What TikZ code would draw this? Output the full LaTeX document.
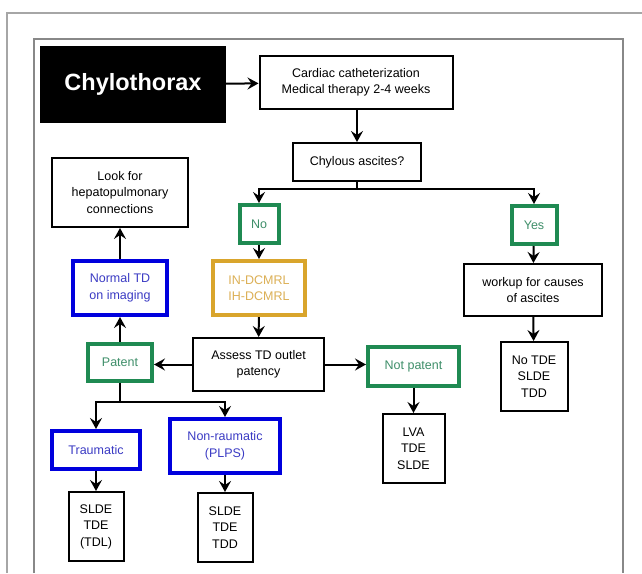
\documentclass[tikz,border=0pt]{standalone}
\usepackage{fontspec}
\setmainfont{Liberation Sans}
\usetikzlibrary{arrows.meta}

\definecolor{outerframe}{HTML}{A6A6A6}
\definecolor{innerframe}{HTML}{888888}
\definecolor{okgreen}{HTML}{1F8A52}
\definecolor{okgreentext}{HTML}{3F8F6A}
\definecolor{tdblue}{HTML}{0000DD}
\definecolor{tdbluetext}{HTML}{3B3BC4}
\definecolor{mrgold}{HTML}{D9A52C}
\definecolor{mrgoldtext}{HTML}{DCB056}

\begin{document}
\begin{tikzpicture}[
    x=1pt, y=-1pt,
    box/.style={
        rectangle,
        draw=black,
        line width=2pt,
        fill=white,
        font=\fontsize{12.5}{16.5}\selectfont,
        align=center,
        inner sep=2pt
    },
    titlebox/.style={
        rectangle,
        fill=black,
        text=white,
        font=\fontsize{23.5}{28}\selectfont\bfseries
    },
    greenbox/.style={box, draw=okgreen, line width=4pt, text=okgreentext},
    bluebox/.style={box, draw=tdblue, line width=4pt, text=tdbluetext},
    goldbox/.style={box, draw=mrgold, line width=4pt, text=mrgoldtext},
    arrow/.style={-{Stealth[length=11pt, width=12pt, inset=4pt]}, line width=2pt},
    line/.style={line width=2pt}
]

\useasboundingbox (0,0) rectangle (642,573);

% frames
\draw[outerframe, line width=1.5pt] (7,573) -- (7,13) -- (642,13);
\draw[innerframe, line width=2.5pt] (34,573) -- (34,39) -- (623,39) -- (623,573);

% top row
\node[titlebox, minimum width=186pt, minimum height=77pt] (chylo) at (133,84.5) {Chylothorax};
\node[box, minimum width=193pt, minimum height=53pt] (cath) at (356,82.5) {Cardiac catheterization\\Medical therapy 2-4 weeks};
\node[box, minimum width=128pt, minimum height=38pt] (ascites) at (357,162) {Chylous ascites?};

% branches
\node[greenbox, minimum width=39pt, minimum height=38pt] (no) at (259,224) {No};
\node[greenbox, minimum width=45pt, minimum height=38pt] (yes) at (534,225) {Yes};
\node[goldbox, minimum width=92pt, minimum height=54pt] (dcmrl) at (259,288) {IN-DCMRL\\IH-DCMRL};
\node[box, minimum width=131pt, minimum height=53pt] (assess) at (258.5,364.5) {Assess TD outlet\\patency};
\node[box, minimum width=138pt, minimum height=52pt] (workup) at (533,290) {workup for causes\\of ascites};
\node[box, minimum width=67pt, minimum height=69pt] (notde) at (534,376.5) {No TDE\\SLDE\\TDD};
\node[greenbox, minimum width=91pt, minimum height=39pt] (notpatent) at (413.5,366.5) {Not patent};
\node[box, minimum width=62pt, minimum height=69pt] (lva) at (413.5,448.5) {LVA\\TDE\\SLDE};

% left column
\node[greenbox, minimum width=64pt, minimum height=37pt] (patent) at (120,362) {Patent};
\node[bluebox, minimum width=94pt, minimum height=54pt] (normal) at (120,288) {Normal TD\\on imaging};
\node[box, minimum width=136pt, minimum height=69pt] (look) at (120,192.5) {Look for\\hepatopulmonary\\connections};
\node[bluebox, minimum width=88pt, minimum height=38pt] (traumatic) at (96,450) {Traumatic};
\node[bluebox, minimum width=110pt, minimum height=54pt] (nontraumatic) at (225,446) {Non-raumatic\\(PLPS)};
\node[box, minimum width=55pt, minimum height=69pt] (tdl) at (96,526.5) {SLDE\\TDE\\(TDL)};
\node[box, minimum width=55pt, minimum height=69pt] (tdd) at (225,527.5) {SLDE\\TDE\\TDD};

\coordinate (split1) at (357,189);
\coordinate (split2) at (120,402);

\draw[arrow] (chylo) -- (cath);
\draw[arrow] (cath.south -| ascites) -- (ascites);
\draw[line] (ascites) -- (split1);
\draw[arrow] (split1) -| (no);
\draw[arrow] (split1) -| (yes);
\draw[arrow] (no) -- (dcmrl);
\draw[arrow] (dcmrl) -- (assess);
\draw[arrow] (assess.west) -- (assess.west -| patent.east);
\draw[arrow] (assess.east) -- (assess.east -| notpatent.west);
\draw[arrow] (notpatent) -- (lva);
\draw[arrow] (yes) -- (workup);
\draw[arrow] (workup) -- (notde);
\draw[arrow] (patent) -- (normal);
\draw[arrow] (normal) -- (look);
\draw[line] (patent) -- (split2);
\draw[arrow] (split2) -| (traumatic);
\draw[arrow] (split2) -| (nontraumatic);
\draw[arrow] (traumatic) -- (tdl);
\draw[arrow] (nontraumatic) -- (tdd);

\end{tikzpicture}
\end{document}
